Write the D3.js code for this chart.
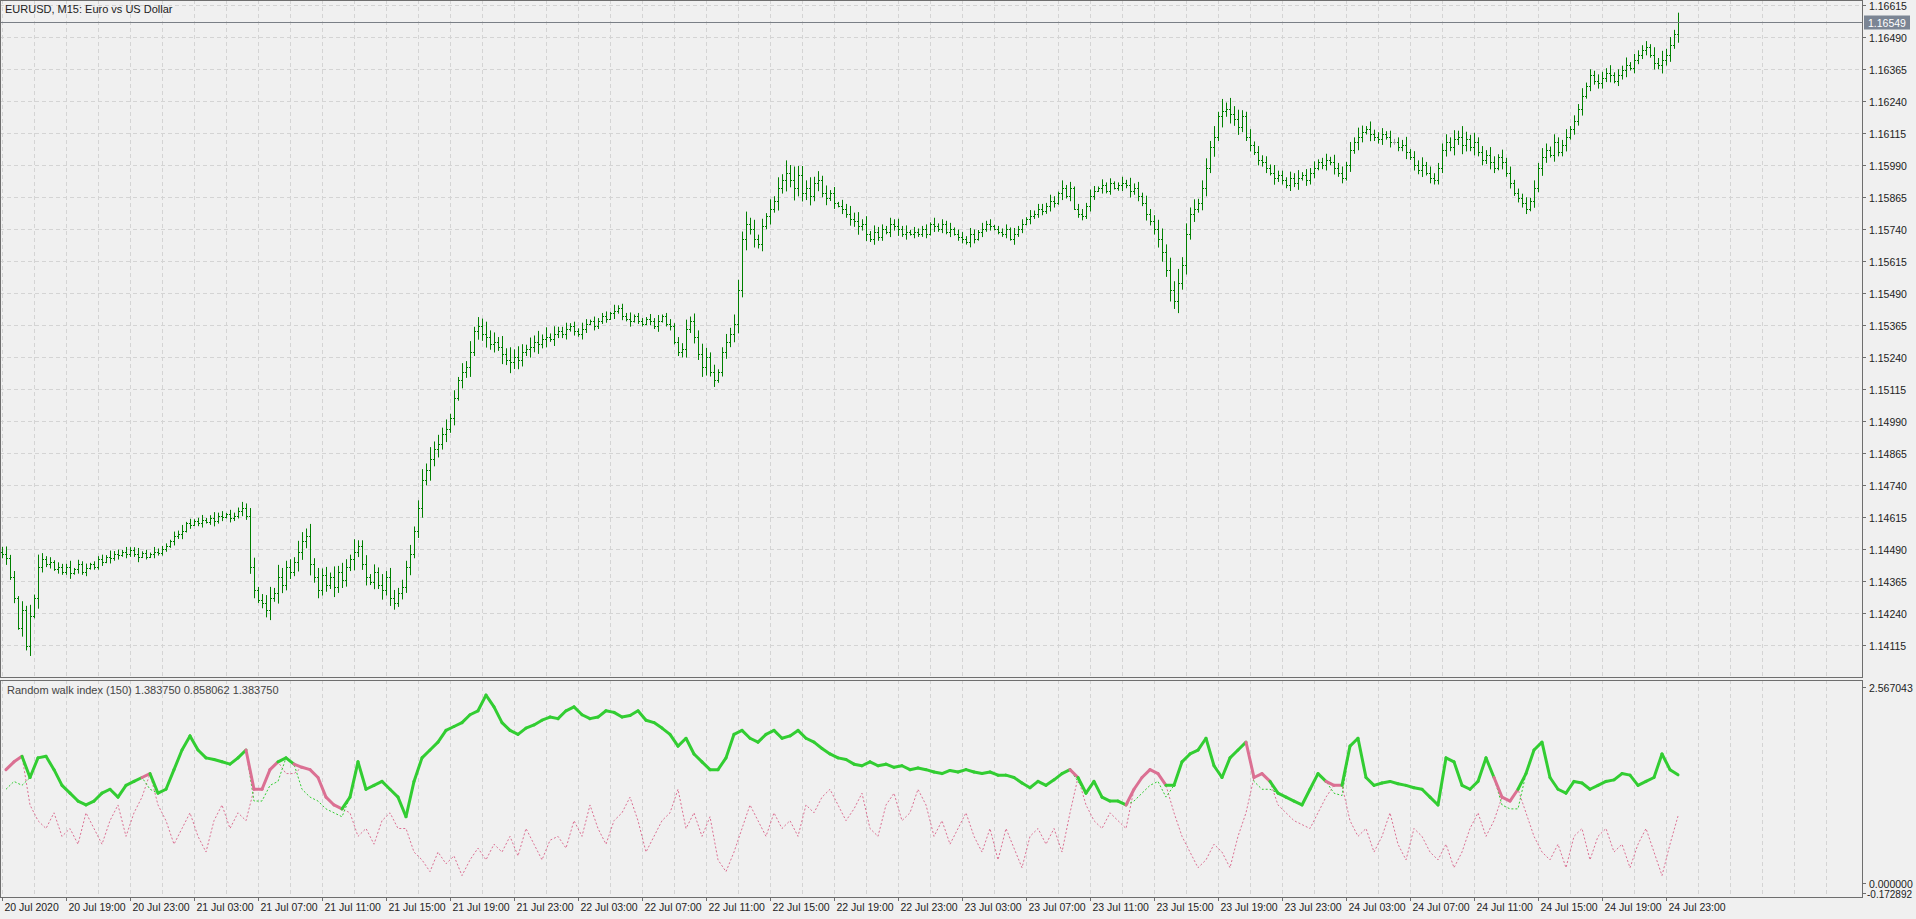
<!DOCTYPE html>
<html><head><meta charset="utf-8">
<script src="https://cdn.jsdelivr.net/npm/d3@7"></script>
<style>body{margin:0;background:#f0f0f0;overflow:hidden}svg{display:block;font-family:"Liberation Sans",Arial,sans-serif}</style>
</head><body><svg id="c" width="1916" height="919"></svg>
<script>
// closes: offset from 1.14000 in 0.00001 units, one per 15-min bar
const closes = [
470,455,380,300, 180,250,110,230, 300,420,450,430, 440,410,420,400, 420,395,410,430, 400,415,430,420,
450,440,460,455, 470,465,480,470, 485,470,460,475, 460,470,480,475, 490,500,520,540, 550,560,590,585,
600,590,605,595, 610,600,620,615, 625,610,620,640, 650,620,420,330, 290,280,250,300, 320,380,350,420,
400,440,480,520, 540,430,380,330, 390,350,380,340, 400,370,420,450, 480,500,430,380, 360,400,350,330,
380,300,280,320, 340,420,470,560, 650,760,800,840, 880,900,940,960, 1000,1080,1150,1180, 1200,1260,1340,1360,
1330,1320,1290,1300, 1280,1250,1230,1220, 1240,1230,1260,1270, 1280,1300,1290,1310, 1320,1310,1330,1340,
1330,1350,1360,1340, 1330,1350,1370,1380, 1360,1380,1400,1390, 1410,1420,1430,1400, 1390,1380,1400,1380,
1370,1390,1380,1360, 1380,1400,1370,1360, 1300,1260,1270,1350, 1380,1320,1250,1200, 1240,1180,1150,1180,
1260,1300,1330,1370, 1500,1700,1760,1740, 1700,1680,1750,1790, 1820,1850,1900,1930, 1960,1930,1900,1950,
1880,1900,1870,1920, 1930,1880,1860,1880, 1840,1830,1820,1800, 1780,1770,1750,1760, 1720,1700,1730,1710,
1740,1730,1760,1750, 1740,1720,1730,1720, 1730,1720,1740,1720, 1760,1750,1740,1760, 1730,1740,1720,1710,
1700,1690,1720,1700, 1730,1740,1760,1750, 1740,1730,1720,1740, 1700,1720,1740,1760, 1780,1790,1800,1820,
1810,1830,1850,1840, 1880,1900,1870,1900, 1820,1800,1790,1830, 1870,1890,1900,1910, 1890,1920,1900,1910,
1920,1910,1890,1900, 1870,1840,1800,1770, 1740,1700,1650,1580, 1500,1460,1530,1600, 1720,1800,1820,1840,
1900,1980,2060,2100, 2180,2200,2210,2190, 2170,2140,2180,2100, 2070,2040,2010,2000, 1980,1960,1940,1950,
1930,1910,1940,1920, 1940,1950,1930,1960, 1980,2000,1990,2010, 2000,1980,1960,1940, 1990,2050,2080,2100,
2120,2130,2110,2100, 2090,2110,2100,2080, 2080,2060,2070,2040, 2020,1990,1970,1990, 1960,1940,1930,1980,
2050,2080,2060,2090, 2100,2070,2090,2060, 2080,2040,2010,2030, 2000,1980,2020,2000, 1960,1920,1880,1860,
1840,1820,1850,1900, 1980,2020,2050,2030, 2080,2040,2070,2100, 2130,2160,2210,2260, 2300,2340,2320,2310,
2330,2350,2340,2320, 2340,2360,2380,2370, 2400,2420,2440,2450, 2420,2390,2380,2400, 2420,2460,2500,2549];
// extra wick per bar, in 0.00006 units
const wicks = "3524163728" + "4231322413" + "2312231423" + "1322412132" + "2213241312" + "3124231322" +
"4356245738" + "6453765846" + "4537465384" + "4625374653" + "5463574856" + "4635264736" + "5846374857" +
"5364736253" + "3423243132" + "2314232412" + "2132412323" + "4635476352" + "3546758463" + "5263748596" +
"6574635241" + "4354635243" + "3243524132" + "2314232413" + "3243142312" + "2314231423" + "3243152413" +
"3243142312" + "4253425346" + "7586957463" + "5647384756" + "4352434253" + "3243524342" + "3425342536" +
"4253342423" + "3524352433" + "4536475363" + "4354253423" + "3425364253" + "3524352434" + "4352435243" + "3425364536";
const timeLabels = ["20 Jul 2020","20 Jul 19:00","20 Jul 23:00","21 Jul 03:00","21 Jul 07:00","21 Jul 11:00","21 Jul 15:00","21 Jul 19:00","21 Jul 23:00",
"22 Jul 03:00","22 Jul 07:00","22 Jul 11:00","22 Jul 15:00","22 Jul 19:00","22 Jul 23:00",
"23 Jul 03:00","23 Jul 07:00","23 Jul 11:00","23 Jul 15:00","23 Jul 19:00","23 Jul 23:00",
"24 Jul 03:00","24 Jul 07:00","24 Jul 11:00","24 Jul 15:00","24 Jul 19:00","24 Jul 23:00"];
const priceTicks = ["1.16615","1.16490","1.16365","1.16240","1.16115","1.15990","1.15865","1.15740","1.15615","1.15490","1.15365","1.15240","1.15115","1.14990","1.14865","1.14740","1.14615","1.14490","1.14365","1.14240","1.14115"];
// Random walk index, one point per 2 bars
const rwiUp = [1.20,1.30,1.25,1.35,1.60,1.62,1.45,1.25,1.15,1.05, 1.00,1.05,1.15,1.20,1.10,1.25,1.30,1.35,1.20,1.15,
1.20,1.45,1.70,1.88,1.70,1.60,1.58,1.55,1.52,1.60, 1.70,1.05,1.05,1.25,1.30,1.60,1.52,1.20,1.10,1.05,
0.95,0.90,0.85,1.10,1.55,1.20,1.25,1.30,1.20,1.10, 0.85,1.30,1.60,1.70,1.80,1.95,2.00,2.05,2.15,2.20,
2.40,2.25,2.05,1.95,1.90,1.98,2.02,2.08,2.12,2.10, 2.20,2.25,2.15,2.10,2.12,2.20,2.18,2.12,2.14,2.20,
2.08,2.05,1.98,1.90,1.75,1.85,1.65,1.55,1.45,1.45, 1.60,1.90,1.95,1.85,1.80,1.90,1.95,1.85,1.88,1.95,
1.85,1.80,1.72,1.65,1.60,1.58,1.52,1.50,1.55,1.50, 1.52,1.48,1.50,1.45,1.47,1.45,1.42,1.40,1.44,1.42,
1.45,1.42,1.40,1.42,1.38,1.38,1.35,1.28,1.22,1.30, 1.25,1.32,1.40,1.45,1.30,1.15,1.30,1.10,1.05,1.05,
1.00,1.05,1.15,1.25,1.30,1.10,1.25,1.55,1.65,1.70, 1.85,1.50,1.35,1.60,1.70,1.80,1.30,1.20,1.20,1.15,
1.10,1.05,1.00,1.20,1.40,1.30,1.15,1.12,1.75,1.85, 1.35,1.25,1.28,1.30,1.27,1.25,1.22,1.20,1.10,1.00,
1.60,1.55,1.25,1.20,1.30,1.60,1.35,1.00,0.95,0.95, 1.40,1.70,1.80,1.35,1.20,1.15,1.30,1.28,1.20,1.25,
1.30,1.32,1.40,1.38,1.25,1.30,1.35,1.65,1.45,1.38375];
const rwiDn = [1.45,1.55,1.62,1.00,0.80,0.70,0.90,0.60,0.70,0.50, 0.90,0.70,0.50,0.80,1.00,0.60,0.90,1.10,1.40,1.00,
0.80,0.50,0.70,0.90,0.60,0.40,0.80,1.00,0.70,0.90, 0.80,1.20,1.20,1.45,1.55,1.40,1.40,1.48,1.45,1.35,
1.10,1.00,0.95,0.90,0.60,0.70,0.50,0.80,0.90,0.70, 0.70,0.40,0.30,0.15,0.40,0.25,0.35,0.10,0.30,0.45,
0.30,0.50,0.40,0.60,0.35,0.70,0.50,0.30,0.55,0.60, 0.45,0.80,0.60,1.00,0.70,0.50,0.80,0.90,1.10,0.80,
0.40,0.60,0.80,0.90,1.20,0.70,0.90,0.60,0.85,0.30, 0.15,0.40,0.70,1.00,0.80,0.60,0.90,0.70,0.80,0.60,
1.00,0.90,1.10,1.20,1.00,0.80,0.95,1.15,0.70,0.60, 1.00,1.15,0.80,0.90,1.20,1.00,0.60,0.80,0.50,0.70,
0.90,0.60,0.40,0.70,0.30,0.70,0.45,0.20,0.60,0.70, 0.50,0.70,0.40,0.90,1.35,1.00,0.80,0.70,0.90,0.80,
0.70,1.20,1.35,1.45,1.40,1.25,0.90,0.60,0.40,0.20, 0.30,0.50,0.40,0.20,0.60,0.90,1.35,1.40,1.30,1.00,
0.90,0.80,0.75,0.70,0.90,1.10,1.25,1.25,0.80,0.60, 0.70,0.40,0.60,0.90,0.50,0.30,0.70,0.60,0.40,0.30,
0.50,0.20,0.40,0.70,0.90,0.60,0.80,1.10,1.05,1.20, 0.90,0.60,0.40,0.30,0.50,0.20,0.60,0.70,0.30,0.60,
0.70,0.40,0.50,0.20,0.50,0.70,0.40,0.10,0.50,0.858062];

const svg = d3.select("#c");
const W = 1916, plotR = 1862, mainT = 0, mainB = 677, indT = 680, indB = 897;
const N = closes.length;
const x = d3.scaleLinear().domain([0, 419]).range([2, 1678]);
const y = d3.scaleLinear().domain([1.14115, 1.16615]).range([645, 5]);
const yi = d3.scaleLinear().domain([-0.172892, 2.567043]).range([indB, indT + 2]);

svg.append("rect").attr("width", W).attr("height", 919).attr("fill", "#f0f0f0");
const grid = svg.append("g").attr("stroke", "#d4d4d4").attr("stroke-dasharray", "4,3").attr("stroke-width", 1);
for (let k = 0; k * 8 <= 460; k++) {
  const gx = Math.round(x(k * 8)) + 0.5;
  if (gx > plotR) break;
  grid.append("line").attr("x1", gx).attr("x2", gx).attr("y1", mainT).attr("y2", mainB);
  grid.append("line").attr("x1", gx).attr("x2", gx).attr("y1", indT).attr("y2", indB);
}
priceTicks.forEach(t => {
  const gy = Math.round(y(+t)) + 0.5;
  grid.append("line").attr("x1", 0).attr("x2", plotR).attr("y1", gy).attr("y2", gy);
});

// bars
const bars = svg.append("g");
closes.forEach((c, i) => {
  const cl = 1.14 + c / 1e5;
  const op = i === 0 ? 1.14480 : 1.14 + closes[i - 1] / 1e5;
  const w = +wicks[i % wicks.length] * 0.00006;
  const hi = Math.max(op, cl) + w, lo = Math.min(op, cl) - w * 0.9;
  const bx = Math.round(x(i)) + 0.5;
  const col = op === cl ? "#a0a0a0" : "#008000";
  bars.append("line").attr("x1", bx).attr("x2", bx).attr("y1", y(hi)).attr("y2", y(lo)).attr("stroke", col).attr("stroke-width", 1);
  bars.append("line").attr("x1", bx - 1.5).attr("x2", bx).attr("y1", Math.round(y(op)) + 0.5).attr("y2", Math.round(y(op)) + 0.5).attr("stroke", col);
  bars.append("line").attr("x1", bx).attr("x2", bx + 1.5).attr("y1", Math.round(y(cl)) + 0.5).attr("y2", Math.round(y(cl)) + 0.5).attr("stroke", col);
});

// current price line
const last = 1.14 + closes[N - 1] / 1e5;
const ly = Math.round(y(last)) + 0.5;
svg.append("line").attr("x1", 0).attr("x2", plotR).attr("y1", ly).attr("y2", ly).attr("stroke", "#7a7f86");

// indicator
const xi = j => x(j * 2 + 1);
const lineUp = d3.line().x((d, j) => xi(j)).y(d => yi(d));
svg.append("path").attr("d", lineUp(rwiDn)).attr("fill", "none").attr("stroke", "#db7093").attr("stroke-width", 1).attr("stroke-dasharray", "2,2");
svg.append("path").attr("d", lineUp(rwiUp)).attr("fill", "none").attr("stroke", "#32cd32").attr("stroke-width", 1).attr("stroke-dasharray", "2,2");
const thick = svg.append("g").attr("fill", "none").attr("stroke-width", 3).attr("stroke-linejoin", "round").attr("stroke-linecap", "round");
for (let j = 0; j < rwiUp.length - 1; j++) {
  const a = Math.max(rwiUp[j], rwiDn[j]), b = Math.max(rwiUp[j + 1], rwiDn[j + 1]);
  const col = rwiUp[j + 1] >= rwiDn[j + 1] ? "#32cd32" : "#db7093";
  thick.append("line").attr("x1", xi(j)).attr("x2", xi(j + 1)).attr("y1", yi(a)).attr("y2", yi(b)).attr("stroke", col);
}

// frames
const fr = svg.append("g").attr("fill", "none").attr("stroke", "#6e6e6e");
fr.append("rect").attr("x", 0.5).attr("y", 0.5).attr("width", plotR).attr("height", mainB);
fr.append("rect").attr("x", 0.5).attr("y", indT + 0.5).attr("width", plotR).attr("height", indB - indT);

// right axis
const ax = svg.append("g").attr("font-size", 10.5).attr("fill", "#222");
priceTicks.forEach(t => {
  const ty = Math.round(y(+t)) + 0.5;
  ax.append("line").attr("x1", plotR).attr("x2", plotR + 4).attr("y1", ty).attr("y2", ty).attr("stroke", "#6e6e6e");
  ax.append("text").attr("x", plotR + 7).attr("y", ty + 4).text(t);
});
ax.append("rect").attr("x", plotR + 2).attr("y", ly - 7).attr("width", 46).attr("height", 14).attr("fill", "#7b8594");
ax.append("text").attr("x", plotR + 6).attr("y", ly + 4).attr("fill", "#fff").text(last.toFixed(5));
[["2.567043", 2.567043], ["0.000000", 0], ["-0.172892", -0.172892]].forEach(([t, v], k) => {
  const ty = Math.round(yi(v)) + 0.5 - (k === 0 ? -5 : k === 2 ? 4 : 0);
  ax.append("line").attr("x1", plotR).attr("x2", plotR + 4).attr("y1", ty).attr("y2", ty).attr("stroke", "#6e6e6e");
  ax.append("text").attr("x", plotR + (k === 2 ? 5 : 7)).attr("y", ty + 4).attr("font-size", k === 2 ? 10 : 10.5).text(t);
});
// time axis
timeLabels.forEach((t, k) => {
  const tx = Math.round(x(k * 16)) + 0.5;
  ax.append("line").attr("x1", tx).attr("x2", tx).attr("y1", indB).attr("y2", indB + 4).attr("stroke", "#6e6e6e");
  ax.append("text").attr("x", tx + 2).attr("y", 911).text(t);
});
// titles
ax.append("text").attr("x", 5).attr("y", 13).attr("font-size", 11).text("EURUSD, M15:  Euro vs US Dollar");
ax.append("text").attr("x", 7).attr("y", indT + 14).attr("font-size", 11).attr("fill", "#444").text("Random walk index (150) 1.383750 0.858062 1.383750");
</script></body></html>
